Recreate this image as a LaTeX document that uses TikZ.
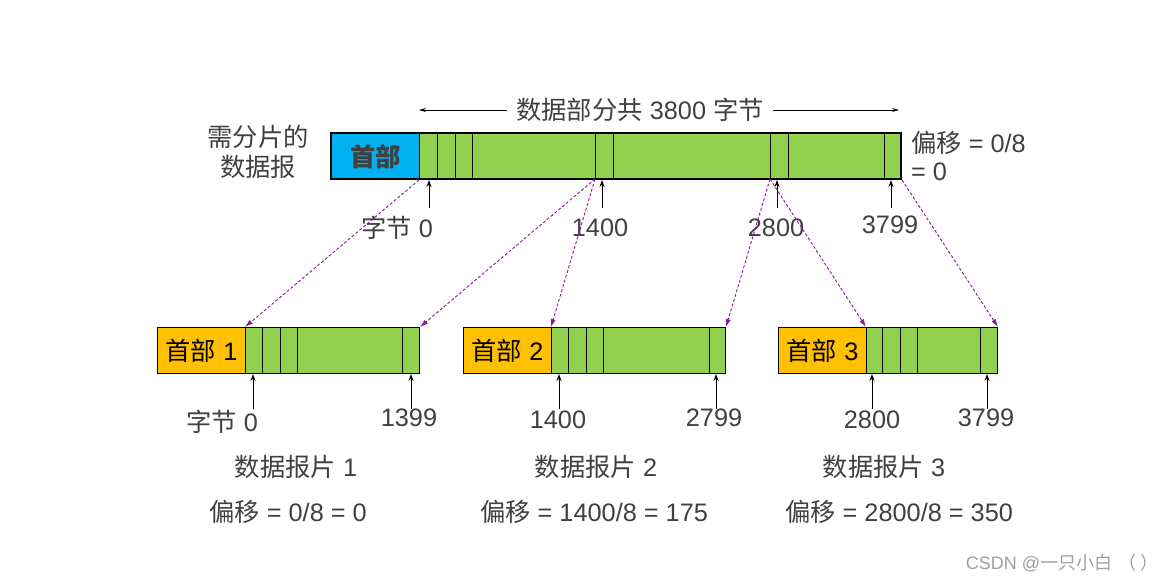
\documentclass[tikz,border=0pt]{standalone}
\usepackage{fontspec}
\setmainfont{Liberation Sans}
\newfontfamily\cjk{Noto Sans CJK SC}
\usetikzlibrary{arrows.meta}
\newcommand{\zh}[1]{{\cjk #1}}
\definecolor{tgrey}{HTML}{404040}
\definecolor{hblue}{HTML}{00B0F0}
\definecolor{dgreen}{HTML}{92D050}
\definecolor{horange}{HTML}{FFC000}
\definecolor{dpurple}{HTML}{8B1A9B}
\definecolor{wmgrey}{HTML}{A0A0A0}
\begin{document}
\begin{tikzpicture}[x=1pt,y=-1pt,
  lbl/.style={text=tgrey, font=\fontsize{25.3}{30}\selectfont, inner sep=0pt},
  box/.style={draw=black, line width=1pt, minimum height=46pt, inner sep=0pt, anchor=north west},
  hdrbox/.style={box, fill=horange, font=\fontsize{25.3}{30}\selectfont},
  databox/.style={box, fill=dgreen},
  divider/.style={line width=1pt},
  uparrow/.style={line width=0.9pt, -{Stealth[length=7pt,width=5pt]}},
  frag/.style={dpurple, line width=0.9pt, dash pattern=on 3pt off 2pt, -{Latex[length=8pt,width=5pt]}},
  spanarrow/.style={line width=0.8pt, -{Stealth[length=7pt,width=4pt]}}
]
\useasboundingbox (0,0) rectangle (1167,584);
\fill[white] (0,0) rectangle (1167,584);

% ---- original datagram ----
\node[box, fill=hblue, minimum width=88pt, text=tgrey, font=\fontsize{25.3}{30}\selectfont] (H0) at (331,133) {\zh{\bfseries 首部}};
\node[databox, minimum width=482pt] (D0) at (419,133) {};
\foreach \x in {437,455,472,595,613,770,788,884}
  \draw[divider] (\x,133) -- (\x,179);
\draw[line width=2.2pt] (331,133) rectangle (901,179);

\node[lbl] (T) at (640,110) {\zh{数据部分共} 3800 \zh{字节}};
\coordinate (tl) at (419,110);
\coordinate (tr) at (899,110);
\draw[spanarrow] ([xshift=-9pt]T.west) -- (tl);
\draw[spanarrow] ([xshift=9pt]T.east) -- (tr);

\node[lbl, align=center] (need) at (258,152) {\zh{需分片的}\\\zh{数据报}};
\node[lbl, align=left, anchor=west, font=\fontsize{25.3}{28}\selectfont] (off0) at (911,156) {\zh{偏移} = 0/8\\= 0};

% top byte markers
\node[lbl] (b0) at (397,228) {\zh{字节} 0};
\node[lbl] (b1400) at (600,228) {1400};
\node[lbl] (b2800) at (776,228) {2800};
\node[lbl] (b3799) at (890,225) {3799};
\foreach \x/\n in {429/a,602/b,777/c,891/d}{
  \coordinate (ts\n) at (\x,208);
  \coordinate (te\n) at (\x,180);
  \draw[uparrow] (ts\n) -- (te\n);
}

% ---- fragments ----
\node[hdrbox, minimum width=88pt] (H1) at (157,327) {\zh{首部} 1};
\node[databox, minimum width=174pt] (D1) at (245,327) {};
\node[hdrbox, minimum width=88pt] (H2) at (463,327) {\zh{首部} 2};
\node[databox, minimum width=174pt] (D2) at (551,327) {};
\node[hdrbox, minimum width=88pt] (H3) at (778,327) {\zh{首部} 3};
\node[databox, minimum width=131pt] (D3) at (866,327) {};
\foreach \x in {262,280,297,402, 568,586,603,709, 882,900,917,980}
  \draw[divider] (\x,327) -- (\x,373);

% bottom byte markers
\foreach \x/\n in {253/a,411/b,559/c,716/d,872/e,987/f}{
  \coordinate (bs\n) at (\x,409);
  \coordinate (be\n) at (\x,374);
  \draw[uparrow] (bs\n) -- (be\n);
}
\node[lbl] (f1s) at (222,422) {\zh{字节} 0};
\node[lbl] (f1e) at (409,418) {1399};
\node[lbl] (f2s) at (558,420) {1400};
\node[lbl] (f2e) at (714,418) {2799};
\node[lbl] (f3s) at (872,420) {2800};
\node[lbl] (f3e) at (986,418) {3799};

\node[lbl] (n1) at (296,467) {\zh{数据报片} 1};
\node[lbl] (n2) at (596,467) {\zh{数据报片} 2};
\node[lbl] (n3) at (884,467) {\zh{数据报片} 3};
\node[lbl] (o1) at (288,512) {\zh{偏移} = 0/8 = 0};
\node[lbl] (o2) at (594,512) {\zh{偏移} = 1400/8 = 175};
\node[lbl] (o3) at (899,512) {\zh{偏移} = 2800/8 = 350};

% ---- fragment mapping (dashed) ----
\coordinate (s1400) at (595,179);
\coordinate (s2800) at (770,179);
\draw[frag] (D0.south west) -- (D1.north west);
\draw[frag] (s1400) -- (D1.north east);
\draw[frag] (s1400) -- (D2.north west);
\draw[frag] (s2800) -- (D2.north east);
\draw[frag] (s2800) -- (D3.north west);
\draw[frag] (D0.south east) -- (D3.north east);

% watermark
\node[text=wmgrey, font=\fontsize{18}{20}\selectfont, inner sep=0pt] (wm) at (1062,563) {CSDN @\zh{一只小白}\hspace{6pt}\zh{（}\hspace{4pt}\zh{）}};
\end{tikzpicture}
\end{document}
